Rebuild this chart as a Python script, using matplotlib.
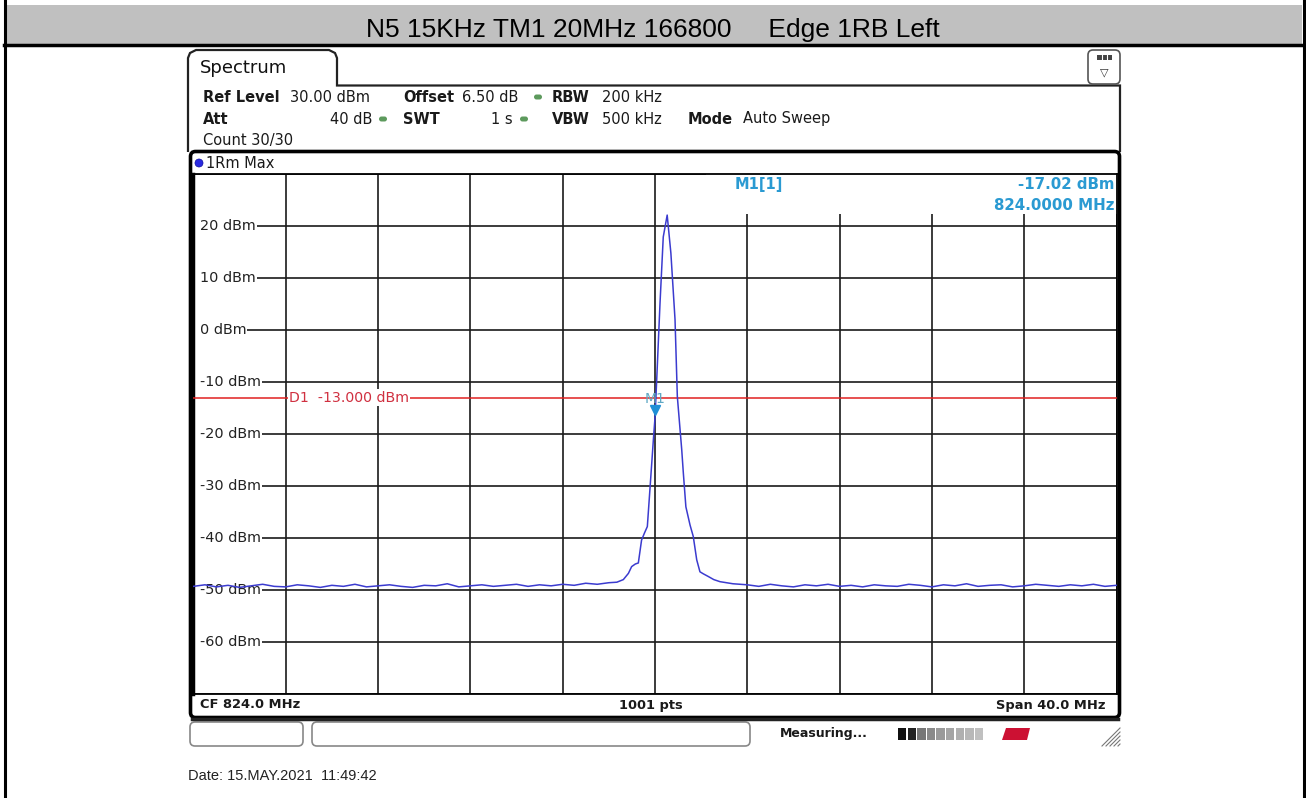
import numpy as np
import matplotlib
matplotlib.use("Agg")
import matplotlib.pyplot as plt
from matplotlib.patches import FancyBboxPatch, Rectangle, Polygon

# ---- data ----
freq_lo, freq_hi = 804.0, 844.0          # CF 824 MHz, span 40 MHz
ref_top, ref_bottom = 30, -70            # dBm scale
level_ticks = [20, 10, 0, -10, -20, -30, -40, -50, -60]

noise_left_freq = [804.0, 804.5, 805.0, 805.5, 806.0, 806.5, 807.0, 807.5, 808.0, 808.5,
                   809.0, 809.5, 810.0, 810.5, 811.0, 811.5, 812.0, 812.5, 813.0, 813.5,
                   814.0, 814.5, 815.0, 815.5, 816.0, 816.5, 817.0, 817.5, 818.0, 818.5,
                   819.0, 819.5, 820.0, 820.5, 821.0, 821.5, 822.0]
noise_left_lvl = [-49.3, -49.0, -49.4, -49.1, -49.5, -49.2, -48.9, -49.3, -49.4, -49.0,
                  -49.2, -49.5, -49.1, -49.3, -48.9, -49.4, -49.2, -49.0, -49.3, -49.5,
                  -49.1, -49.2, -48.8, -49.4, -49.2, -49.0, -49.3, -49.1, -48.9, -49.3,
                  -49.0, -49.2, -48.9, -49.1, -48.7, -48.9, -48.6]

peak_freq = [822.35, 822.63, 822.85, 822.99, 823.15, 823.28, 823.42, 823.55, 823.67, 823.78,
             823.93, 824.0, 824.07, 824.22, 824.36, 824.53, 824.69, 824.87, 824.97, 825.16,
             825.23, 825.34, 825.52, 825.66, 825.81, 825.95, 826.1, 826.31, 826.55, 826.82,
             827.1, 827.38]
peak_lvl = [-48.5, -48.0, -46.8, -45.5, -45.0, -44.8, -40.4, -39.0, -37.8, -30.8,
            -21.2, -17.02, -10.2, 5.2, 17.9, 22.1, 14.8, 2.0, -12.8, -23.0,
            -27.5, -34.0, -37.5, -39.7, -44.2, -46.5, -46.9, -47.4, -48.0, -48.4,
            -48.6, -48.8]

noise_right_freq = [828.0, 828.5, 829.0, 829.5, 830.0, 830.5, 831.0, 831.5, 832.0, 832.5,
                    833.0, 833.5, 834.0, 834.5, 835.0, 835.5, 836.0, 836.5, 837.0, 837.5,
                    838.0, 838.5, 839.0, 839.5, 840.0, 840.5, 841.0, 841.5, 842.0, 842.5,
                    843.0, 843.5, 844.0]
noise_right_lvl = [-49.0, -49.3, -48.9, -49.2, -49.4, -49.0, -49.2, -48.9, -49.3, -49.1,
                   -49.4, -49.0, -49.2, -49.3, -48.9, -49.1, -49.4, -49.0, -49.2, -48.8,
                   -49.3, -49.1, -49.0, -49.4, -49.2, -48.9, -49.1, -49.3, -49.0, -49.2,
                   -48.9, -49.3, -49.1]

display_line = -13.0
marker_freq, marker_lvl = 824.0, -17.02

trace_freq = noise_left_freq + peak_freq + noise_right_freq
trace_lvl = noise_left_lvl + peak_lvl + noise_right_lvl

W, H = 1306, 798
fig = plt.figure(figsize=(W / 100, H / 100), dpi=100)
fig.patch.set_facecolor("white")

# background layer in pixel coordinates
bg = fig.add_axes([0, 0, 1, 1], zorder=0)
bg.set_xlim(0, W)
bg.set_ylim(H, 0)
bg.axis("off")

FONT = "DejaVu Sans"


def txt(x, y, s, size=10.5, weight="normal", color="#1a1a1a", ha="left", family=FONT, **kw):
    bg.text(x, y, s, fontsize=size, fontweight=weight, color=color, ha=ha, va="center",
            family=family, **kw)


def dot(x, y, color="#5d9a5d"):
    bg.add_patch(FancyBboxPatch((x - 4, y - 2.5), 8, 5, boxstyle="round,pad=0,rounding_size=2.5",
                                fc=color, ec="none"))


# header cell of the report table
bg.add_patch(Rectangle((4, 5), W - 8, 39, fc="#c0c0c0", ec="none"))
bg.plot([4, W - 3], [44.5, 44.5], color="black", lw=2.5)
bg.plot([4.5, 4.5], [0, H], color="black", lw=2.2)
bg.plot([W - 2.5, W - 2.5], [0, H], color="black", lw=2.2)
bg.text(W / 2, 30, "N5 15KHz TM1 20MHz 166800     Edge 1RB Left", fontsize=19, ha="center",
        va="center", family="Liberation Sans", color="black")

# Spectrum tab and panel outline
bg.add_patch(Polygon([(188, 152), (188, 58), (190, 53), (196, 50), (329, 50), (335, 53),
                      (337, 58), (337, 85.5), (1120, 85.5), (1120, 152)],
                     closed=False, fill=False, ec="#222222", lw=1.6))
txt(200, 68, "Spectrum", size=13, color="#111111")
bg.add_patch(FancyBboxPatch((1088, 50), 32, 34, boxstyle="round,pad=0,rounding_size=5",
                            fc="white", ec="#555555", lw=1.2))
bg.add_patch(Rectangle((1097, 55), 15, 5, fc="#444444", ec="none"))
for xs in (1102, 1107):
    bg.plot([xs, xs], [55, 60], color="white", lw=0.8)
txt(1104.5, 72, "\u25BD", size=8, ha="center", color="#333333")

# settings lines
r1, r2, r3 = 97, 119, 140
txt(203, r1, "Ref Level", weight="bold")
txt(290, r1, "30.00 dBm")
txt(403, r1, "Offset", weight="bold")
txt(462, r1, "6.50 dB")
dot(538, r1)
txt(552, r1, "RBW", weight="bold")
txt(602, r1, "200 kHz")
txt(203, r2, "Att", weight="bold")
txt(372, r2, "40 dB", ha="right")
dot(383, r2)
txt(403, r2, "SWT", weight="bold")
txt(513, r2, "1 s", ha="right")
dot(524, r2)
txt(552, r2, "VBW", weight="bold")
txt(602, r2, "500 kHz")
txt(688, r2, "Mode", weight="bold")
txt(743, r2, "Auto Sweep")
txt(203, r3, "Count 30/30")

# diagram frame
bg.add_patch(FancyBboxPatch((190.5, 151.5), 929, 566, boxstyle="round,pad=0,rounding_size=5",
                            fc="white", ec="black", lw=2.6))
bg.plot([192, 1118], [719, 719], color="#222222", lw=2.5)
bg.add_patch(FancyBboxPatch((195, 159), 8, 8, boxstyle="circle,pad=0", fc="#2a2ae0", ec="#1010a0", lw=0.5))
txt(206, 163, "1Rm Max", size=10.5)
txt(200, 705, "CF 824.0 MHz", weight="bold", size=9.4)
txt(651, 705, "1001 pts", weight="bold", size=9.4, ha="center")
txt(1106, 705, "Span 40.0 MHz", weight="bold", size=9.4, ha="right")

# status bar
bg.add_patch(FancyBboxPatch((190, 722), 113, 24, boxstyle="round,pad=0,rounding_size=5",
                            fc="white", ec="#888888", lw=1.2))
bg.add_patch(FancyBboxPatch((312, 722), 438, 24, boxstyle="round,pad=0,rounding_size=5",
                            fc="white", ec="#888888", lw=1.2))
txt(780, 734, "Measuring...", weight="bold", size=9)
block_shades = ["#111111", "#222222", "#777777", "#8a8a8a", "#9a9a9a", "#a5a5a5", "#b0b0b0",
                "#b8b8b8", "#c0c0c0"]
for i, shade in enumerate(block_shades):
    bg.add_patch(Rectangle((898 + i * 9.6, 728), 8.4, 12, fc=shade, ec="none"))
bg.add_patch(Polygon([(1002, 740), (1006, 728), (1030, 728), (1027, 740)], fc="#cc1133", ec="none"))
for k in range(5):
    bg.plot([1102 + 4 * k, 1120], [746, 728 + 4 * k], color="#777777", lw=0.8)

bg.text(188, 776, "Date: 15.MAY.2021  11:49:42", fontsize=10.5, family="Liberation Sans",
        va="center", ha="left", color="#222222")

# ---- the trace diagram ----
x0, x1, y0, y1 = 193.4, 1116.5, 174, 694
ax = fig.add_axes([x0 / W, 1 - y1 / H, (x1 - x0) / W, (y1 - y0) / H], zorder=2)
ax.set_xlim(freq_lo, freq_hi)
ax.set_ylim(ref_bottom, ref_top)
ax.set_xticks(np.arange(freq_lo, freq_hi + 0.1, 4.0))
ax.set_yticks(np.arange(ref_bottom, ref_top + 1, 10))
ax.grid(True, color="#1a1a1a", lw=1.2, zorder=1)
ax.tick_params(length=0, labelleft=False, labelbottom=False)
for side, s in ax.spines.items():
    s.set_color("black")
    s.set_linewidth(1.3)
ax.spines["left"].set_linewidth(2.5)

# white cover behind the marker readout
ax.add_patch(Rectangle((826.2, 22.3), freq_hi - 826.2, ref_top - 22.3, fc="white", ec="none", zorder=2))
ax.text(828.5, 28.0, "M1[1]", color="#2a9ad2", fontsize=10.5, fontweight="bold", family=FONT,
        ha="center", va="center", zorder=3)
ax.text(843.9, 28.0, "-17.02 dBm", color="#2a9ad2", fontsize=10.8, fontweight="bold", family=FONT,
        ha="right", va="center", zorder=3)
ax.text(843.9, 24.0, "824.0000 MHz", color="#2a9ad2", fontsize=10.8, fontweight="bold", family=FONT,
        ha="right", va="center", zorder=3)

for lv in level_ticks:
    ax.add_patch(Rectangle((freq_lo, lv - 0.8), 0.3, 1.6, fc="white", ec="none", zorder=2))
    ax.text(804.29, lv, f"{lv} dBm", fontsize=10.4, family=FONT, color="#222222", ha="left",
            va="center", zorder=3,
            bbox=dict(boxstyle="square,pad=0.05", fc="white", ec="none"))

ax.axhline(display_line, color="#e02020", lw=1.1, zorder=4)
ax.text(808.15, display_line, "D1  -13.000 dBm", fontsize=10.2, family=FONT, color="#d03040",
        ha="left", va="center", zorder=5,
        bbox=dict(boxstyle="square,pad=0.08", fc="white", ec="none"))

ax.plot(trace_freq, trace_lvl, color="#3b3bcf", lw=1.1, zorder=6)

ax.plot([marker_freq], [marker_lvl + 1.6], marker="v", ms=7, color="#1e8fd6", zorder=7)
ax.text(marker_freq, -13.3, "M1", fontsize=10, family=FONT, color="#5fa8c4", ha="center",
        va="center", zorder=7)

fig.savefig("out.png", dpi=100)
